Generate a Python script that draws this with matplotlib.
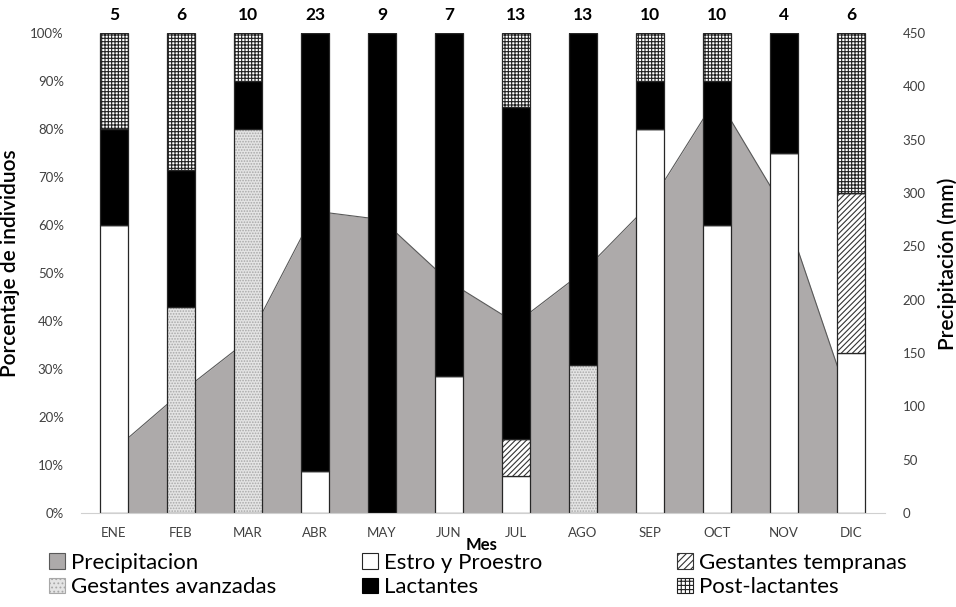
import matplotlib
matplotlib.use("Agg")
import matplotlib.pyplot as plt
import numpy as np
from matplotlib.patches import Patch

plt.rcParams["font.family"] = ["Lato", "DejaVu Sans"]
plt.rcParams["hatch.linewidth"] = 0.8

meses = ["ENE", "FEB", "MAR", "ABR", "MAY", "JUN", "JUL", "AGO", "SEP", "OCT", "NOV", "DIC"]
n_individuos = [5, 6, 10, 23, 9, 7, 13, 13, 10, 10, 4, 6]
precipitacion = [59, 113, 162, 283, 275, 217, 178, 226, 290, 390, 285, 100]

# porcentajes por categoria (apilados de abajo hacia arriba)
estro = [60, 0, 0, 8.7, 0, 28.6, 7.7, 0, 80, 60, 75, 33.3]
gest_tempranas = [0, 0, 0, 0, 0, 0, 7.7, 0, 0, 0, 0, 33.3]
gest_avanzadas = [0, 42.9, 80, 0, 0, 0, 0, 30.8, 0, 0, 0, 0]
lactantes = [20, 28.6, 10, 91.3, 100, 71.4, 69.2, 69.2, 10, 30, 25, 0]
post_lactantes = [20, 28.5, 10, 0, 0, 0, 15.4, 0, 10, 10, 0, 33.4]

PRECIP_COLOR = "#adaaaa"

fig = plt.figure(figsize=(9.56, 6.07), dpi=100)
ax = fig.add_axes([80.5 / 956, 94 / 607, 804 / 956, 480 / 607])
ax2 = ax.twinx()
ax.set_zorder(ax2.get_zorder() + 1)
ax.patch.set_visible(False)

x = np.arange(len(meses))

# area de precipitacion (eje secundario, detras de las barras)
ax2.fill_between(x, precipitacion, 0, color=PRECIP_COLOR, linewidth=0)
ax2.plot(x, precipitacion, color="#595959", linewidth=0.8)
ax2.set_ylim(0, 450)
ax2.set_yticks(range(0, 451, 50))

series = [
    (estro, "white", None, None),
    (gest_tempranas, "white", "//////", "#333333"),
    (gest_avanzadas, "#e4e4e4", "......", "#a8a8a8"),
    (lactantes, "black", None, None),
    (post_lactantes, "white", "+++++", "#222222"),
]
w = 0.41
bottom = np.zeros(len(meses))
for vals, fc, hatch, hc in series:
    vals = np.array(vals)
    if hatch:
        ax.bar(x, vals, w, bottom=bottom, color=fc, hatch=hatch, edgecolor=hc, linewidth=0)
    else:
        ax.bar(x, vals, w, bottom=bottom, color=fc, linewidth=0)
    ax.bar(x, vals, w, bottom=bottom, fill=False, edgecolor="#262626", linewidth=0.9)
    bottom += vals

for xi, n in zip(x, n_individuos):
    ax.text(xi, 102, str(n), ha="center", va="bottom", fontsize=12.5, fontweight="bold")

ax.set_xlim(-0.5, len(meses) - 0.5)
ax.set_ylim(0, 100)
ax.set_yticks(range(0, 101, 10))
ax.set_yticklabels([f"{v}%" for v in range(0, 101, 10)])
ax.set_xticks(x)
ax.set_xticklabels(meses)

for a in (ax, ax2):
    for s in a.spines.values():
        s.set_visible(False)
    a.tick_params(length=0, labelsize=9.5, labelcolor="#404040")
ax.spines["bottom"].set_visible(True)
ax.spines["bottom"].set_color("#d0d0d0")
ax.tick_params(axis="y", pad=12)
ax.tick_params(axis="x", pad=10)
ax2.tick_params(axis="y", pad=13)

ax.set_ylabel("Porcentaje de individuos", fontsize=15, fontweight="semibold")
ax.yaxis.set_label_coords((20 - 80.5) / 804, 0.52)
ax2.set_ylabel("Precipitación (mm)", fontsize=15, fontweight="semibold")
ax2.yaxis.set_label_coords((937 - 80.5) / 804, 0.52)
fig.text(482 / 956, 1 - 545 / 607, "Mes", ha="center", va="center", fontsize=12, fontweight="bold")

h_precip = Patch(facecolor=PRECIP_COLOR, edgecolor="#595959", linewidth=0.8)
h_estro = Patch(facecolor="white", edgecolor="#262626", linewidth=0.8)
h_temp = Patch(facecolor="white", edgecolor="#333333", hatch="/////", linewidth=0.8)
h_avan = Patch(facecolor="#e4e4e4", edgecolor="#a8a8a8", hatch="....", linewidth=0.8)
h_lact = Patch(facecolor="black", edgecolor="black", linewidth=0.8)
h_post = Patch(facecolor="white", edgecolor="#222222", hatch="++++", linewidth=0.8)

cols = [
    (49, [h_precip, h_avan], ["Precipitacion", "Gestantes avanzadas"]),
    (362, [h_estro, h_lact], ["Estro y Proestro", "Lactantes"]),
    (677, [h_temp, h_post], ["Gestantes tempranas", "Post-lactantes"]),
]
for xpx, handles, labels in cols:
    fig.legend(handles, labels, loc="upper left", bbox_to_anchor=(xpx / 956, 1 - 553 / 607),
               frameon=False, fontsize=16, borderpad=0, borderaxespad=0,
               handlelength=0.7, handleheight=0.7, handletextpad=0.3, labelspacing=0.2)

fig.savefig("out.png", dpi=100)
